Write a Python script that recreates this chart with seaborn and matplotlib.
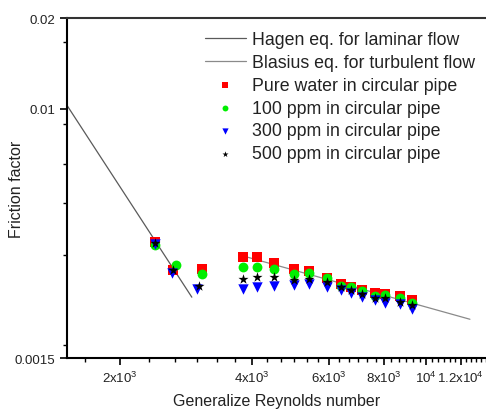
import numpy as np
import pandas as pd
import matplotlib
matplotlib.use("Agg")
import matplotlib.pyplot as plt
from matplotlib.ticker import FixedLocator, NullFormatter
import seaborn as sns

# ---------------- data ----------------
re_groups = [2404, 2642, 3079, 3819, 4110, 4494, 4993, 5402, 5940, 6392,
             6738, 7138, 7644, 8054, 8715, 9284]

re_water = re_groups
f_water = [0.00363, 0.00293, 0.00295, 0.00324, 0.00324, 0.00309, 0.00295, 0.00291,
           0.00276, 0.00264, 0.00258, 0.00252, 0.00246, 0.00244, 0.00240, 0.00233]

re_100 = [2404, 2684, 3079, 3819, 4110, 4494, 4993, 5402, 5940, 6392,
          6738, 7138, 7644, 8054, 8715, 9284]
f_100 = [0.00355, 0.00305, 0.00284, 0.00300, 0.00300, 0.00295, 0.00284, 0.00287,
         0.00276, 0.00259, 0.00258, 0.00250, 0.00240, 0.00242, 0.00237, 0.00228]

re_300 = [2404, 2627, 2998, 3819, 4110, 4494, 4993, 5402, 5940, 6392,
          6738, 7138, 7644, 8054, 8715, 9284]
f_300 = [0.00358, 0.00287, 0.00254, 0.00254, 0.00258, 0.00259, 0.00261, 0.00264,
         0.00258, 0.00252, 0.00246, 0.00238, 0.00233, 0.00228, 0.00226, 0.00218]

re_500 = [2404, 2642, 3030, 3819, 4110, 4494, 4993, 5402, 5940, 6392,
          6738, 7138, 7644, 8054, 8715, 9284]
f_500 = [0.00361, 0.00293, 0.00259, 0.00274, 0.00278, 0.00278, 0.00272, 0.00274,
         0.00268, 0.00258, 0.00252, 0.00244, 0.00237, 0.00237, 0.00230, 0.00224]

hagen_re = [1513, 2917]
hagen_f = [0.01028, 0.002384]
blasius_re = [3819, 12590]
blasius_f = [0.003264, 0.002015]

labels = ["Hagen eq. for laminar flow", "Blasius eq. for turbulent flow",
          "Pure water in circular pipe", "100 ppm in circular pipe",
          "300 ppm in circular pipe", "500 ppm in circular pipe"]

x_major = [2000, 4000, 6000, 8000, 10000, 12000]
x_major_labels = [r"2x10$^{3}$", r"4x10$^{3}$", r"6x10$^{3}$", r"8x10$^{3}$",
                  r"10$^{4}$", r"1.2x10$^{4}$"]
y_major = [0.0015, 0.01, 0.02]
y_major_labels = ["0.0015", "0.01", "0.02"]
y_minor = [0.00165, 0.0033, 0.0049, 0.0066, 0.0089, 0.0166]

# ---------------- plot ----------------
sns.set_style("ticks")
plt.rcParams["font.family"] = ["Liberation Sans", "DejaVu Sans"]
plt.rcParams["mathtext.fontset"] = "custom"
plt.rcParams["mathtext.rm"] = "Liberation Sans"
plt.rcParams["mathtext.it"] = "Liberation Sans"

fig = plt.figure(figsize=(4.86, 4.10), dpi=100)
ax = fig.add_axes([67/486, 1-359/410, 1-67/486, (359-19)/410])
ax.set_xscale("log")
ax.set_yscale("log")

sns.lineplot(x=hagen_re, y=hagen_f, ax=ax, color="#5a5a5a", lw=0.9,
             label=labels[0], estimator=None, sort=False)
sns.lineplot(x=blasius_re, y=blasius_f, ax=ax, color="#8a8a8a", lw=0.9,
             label=labels[1], estimator=None, sort=False)

ms = 42
sns.scatterplot(x=re_water, y=f_water, ax=ax, marker="s", color="#ff0000", s=ms,
                linewidth=0, label=labels[2], zorder=3)
sns.scatterplot(x=re_100, y=f_100, ax=ax, marker="o", color="#00ee00", s=ms+8,
                linewidth=0, label=labels[3], zorder=4)
sns.scatterplot(x=re_300, y=f_300, ax=ax, marker="v", color="#0000ff", s=ms+14,
                linewidth=0, label=labels[4], zorder=5)
sns.scatterplot(x=re_500, y=f_500, ax=ax, marker="*", color="#000000", s=ms+16,
                linewidth=0, label=labels[5], zorder=6)

ax.set_xlim(1513, 13700)
ax.set_ylim(0.0015, 0.02)

ax.xaxis.set_major_locator(FixedLocator(x_major))
ax.set_xticklabels(x_major_labels)
xmin = [1000/3*k for k in range(5, 42)]
xmin = [v for v in xmin if all(abs(v - m) > 1 for m in x_major)]
ax.xaxis.set_minor_locator(FixedLocator(xmin))
ax.xaxis.set_minor_formatter(NullFormatter())

ax.yaxis.set_major_locator(FixedLocator(y_major))
ax.set_yticklabels(y_major_labels)
ax.yaxis.set_minor_locator(FixedLocator(y_minor))
ax.yaxis.set_minor_formatter(NullFormatter())

ax.tick_params(which="major", direction="out", length=5, width=1.2, labelsize=9.5,
               color="black", labelcolor="#222222")
ax.tick_params(which="minor", direction="out", length=3, width=1.0, color="black")

for side in ["left", "bottom"]:
    ax.spines[side].set_linewidth(1.5)
    ax.spines[side].set_color("black")
ax.spines["top"].set_linewidth(1.5)
ax.spines["top"].set_color("#333333")
ax.spines["top"].set_visible(True)
ax.spines["right"].set_visible(False)

ax.set_xlabel("Generalize Reynolds number", fontsize=11.5, color="#222222", labelpad=6)
ax.set_ylabel("Friction factor", fontsize=11.5, color="#222222")
ax.yaxis.set_label_coords(-0.103, 0.5)

leg = ax.legend(loc="upper left", bbox_to_anchor=(205/486, 1-32/410),
                bbox_transform=fig.transFigure, frameon=False, fontsize=12.8,
                handlelength=2.3, handletextpad=0.35, labelspacing=0.33,
                borderpad=0, borderaxespad=0, markerscale=0.6)
for t in leg.get_texts():
    t.set_color("#222222")

fig.savefig("out.png", dpi=100)
